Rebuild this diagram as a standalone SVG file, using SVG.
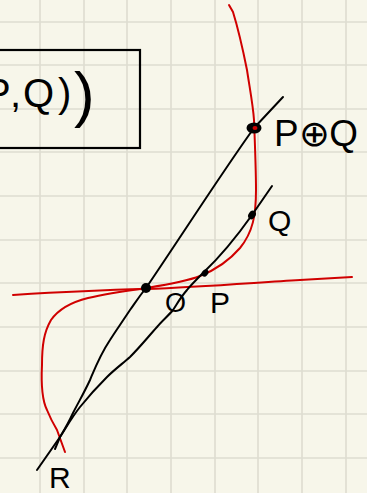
<svg xmlns="http://www.w3.org/2000/svg" width="367" height="493" viewBox="0 0 367 493">
<style>
.grid line{stroke:#dedcd0;stroke-width:1.6}
.blk{fill:none;stroke:#000;stroke-width:2;stroke-linecap:round;stroke-linejoin:round}
.red{fill:none;stroke:#d00000;stroke-width:2;stroke-linecap:round;stroke-linejoin:round}
.lbl{font-family:"Liberation Sans",Arial,sans-serif;fill:#000}
</style>
<rect width="367" height="493" fill="#f7f6ea"/>
<g class="grid">
<line x1="40" y1="0" x2="40" y2="493"/><line x1="84" y1="0" x2="84" y2="493"/><line x1="127" y1="0" x2="127" y2="493"/><line x1="171" y1="0" x2="171" y2="493"/><line x1="215" y1="0" x2="215" y2="493"/><line x1="258" y1="0" x2="258" y2="493"/><line x1="302" y1="0" x2="302" y2="493"/><line x1="346" y1="0" x2="346" y2="493"/>
<line x1="0" y1="22" x2="367" y2="22"/><line x1="0" y1="65" x2="367" y2="65"/><line x1="0" y1="109" x2="367" y2="109"/><line x1="0" y1="152" x2="367" y2="152"/><line x1="0" y1="196" x2="367" y2="196"/><line x1="0" y1="240" x2="367" y2="240"/><line x1="0" y1="283" x2="367" y2="283"/><line x1="0" y1="327" x2="367" y2="327"/><line x1="0" y1="371" x2="367" y2="371"/><line x1="0" y1="414" x2="367" y2="414"/><line x1="0" y1="458" x2="367" y2="458"/>
</g>
<g id="box">
<rect x="-10" y="50" width="150" height="98" fill="none" stroke="#000" stroke-width="2.2"/>
<text class="lbl" y="107" font-size="40"><tspan x="-16">P</tspan><tspan x="10">,</tspan><tspan x="23">Q</tspan><tspan x="58">)</tspan><tspan x="74" y="115" font-size="62">)</tspan></text>
</g>
<g id="connectors">
<path id="curve" class="red" d="M229,5 L233,12 C237,25 243,50 247,70 C250,90 253,105 254,120 C255,145 256,170 256,190 C256,215 253,232 240,248 C228,262 215,270 200,276 C185,282 165,285 146,288 C125,291 105,294 88,298 C72,302 58,310 51,320 C44,332 42,345 42,365 C41,385 42,400 47,410 C51,420 54,425 57,430 L65,452"/>
<path id="tangent" class="red" d="M13,295 C60,292 100,290 146,289 C200,287 250,283 300,280 L352,277"/>
<path id="line1" class="blk" d="M283,97 L254,128 C225,168 180,238 146,288 C138,298 135,303 130,310 C120,325 115,332 110,340 C100,355 95,368 90,380 C84,393 78,403 73,413 C68,424 63,432 60,437 L55,449"/>
<path id="line2" class="blk" d="M272,186 L252,215 C240,232 222,255 203,273 C195,281 190,286 187,290 C180,298 177,304 173,310 C168,316 162,321 157,327 C148,337 140,347 130,357 C122,364 114,370 107,377 C98,386 88,397 80,407 C72,417 66,428 60,437 L37,470"/>
</g>
<g id="pq">
<ellipse cx="254" cy="128" rx="7.5" ry="5.5" fill="#000"/>
<ellipse cx="255" cy="128" rx="2.5" ry="2" fill="#d00000"/>
<text class="lbl" x="274" y="146" font-size="36" textLength="84" lengthAdjust="spacingAndGlyphs">P⊕Q</text>
</g>
<g id="q">
<ellipse cx="252" cy="215" rx="3.5" ry="4.5" fill="#000" transform="rotate(35 252 215)"/>
<text class="lbl" x="268" y="231" font-size="30">Q</text>
</g>
<g id="p">
<ellipse cx="205" cy="273" rx="3" ry="4" fill="#000" transform="rotate(40 205 273)"/>
<text class="lbl" x="210" y="313" font-size="30">P</text>
</g>
<g id="t">
<ellipse cx="146" cy="288" rx="5" ry="5" fill="#000"/>
</g>
<g id="o">
<text class="lbl" x="165" y="312" font-size="27">O</text>
</g>
<g id="r">
<text class="lbl" x="49" y="488" font-size="30">R</text>
</g>
</svg>
